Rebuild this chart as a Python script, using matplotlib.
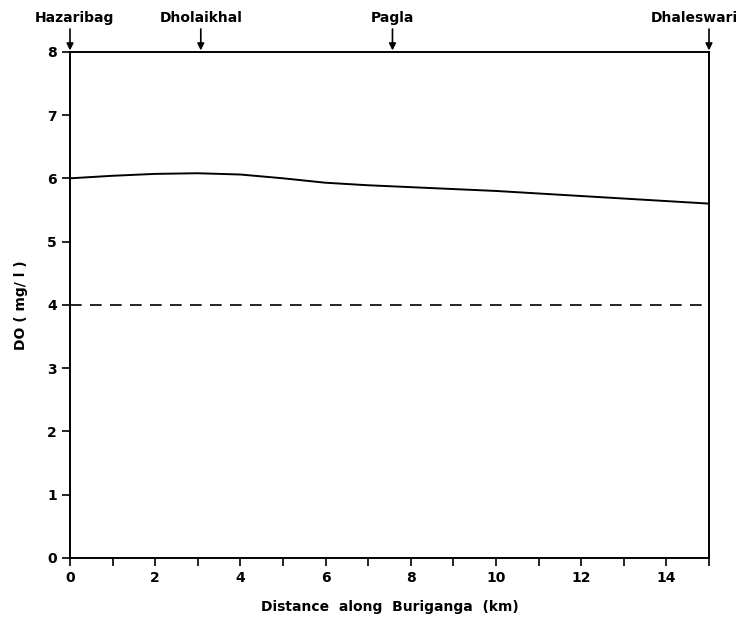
import matplotlib.pyplot as plt

# DO profile along the Buriganga
dist_km = [0, 1, 2, 3, 4, 5, 6, 7, 8, 9, 10, 11, 12, 13, 14, 15]
do_mgl = [6.00, 6.04, 6.07, 6.08, 6.06, 6.00, 5.93, 5.89, 5.86, 5.83, 5.80, 5.76, 5.72, 5.68, 5.64, 5.60]
standard_do = 4.0

places = ["Hazaribag", "Dholaikhal", "Pagla", "Dhaleswari"]
place_km = [0, 3.07, 7.57, 15]
label_km = [0.1, 3.07, 7.57, 14.65]  # where the name text sits

plt.rcParams['font.family'] = 'DejaVu Sans'
fig = plt.figure(figsize=(7.4, 6.24), dpi=100)
ax = fig.add_axes([0.0946, 0.106, 0.8635, 0.811])

ax.plot(dist_km, do_mgl, color='black', linewidth=1.4)
ax.plot([dist_km[0], dist_km[-1]], [standard_do, standard_do], color='black',
        linewidth=1.2, dashes=(7, 5))

ax.set_xlim(0, 15)
ax.set_ylim(0, 8)
ax.set_xticks(range(0, 16, 2))
ax.set_xticks(range(0, 16, 1), minor=True)
ax.set_yticks(range(0, 9))
ax.tick_params(direction='out', length=6, width=1.2, labelsize=10)
ax.tick_params(which='minor', direction='out', length=6, width=1.2)
for lab in ax.get_xticklabels() + ax.get_yticklabels():
    lab.set_fontweight('bold')
for s in ax.spines.values():
    s.set_linewidth(1.4)

ax.set_xlabel("Distance  along  Buriganga  (km)", fontsize=10, fontweight='bold', labelpad=11)
ax.set_ylabel("DO ( mg/ l )", fontsize=10, fontweight='bold', labelpad=14)

for name, x, lx in zip(places, place_km, label_km):
    ax.annotate("", xy=(x, 8), xytext=(x, 8.36), annotation_clip=False,
                arrowprops=dict(arrowstyle='-|>', color='black', lw=1.2,
                                shrinkA=0, shrinkB=1, mutation_scale=10))
    ax.text(lx, 8.42, name, ha='center', va='bottom', fontsize=10,
            fontweight='bold', clip_on=False)

fig.savefig("out.png", dpi=100, facecolor='white')
